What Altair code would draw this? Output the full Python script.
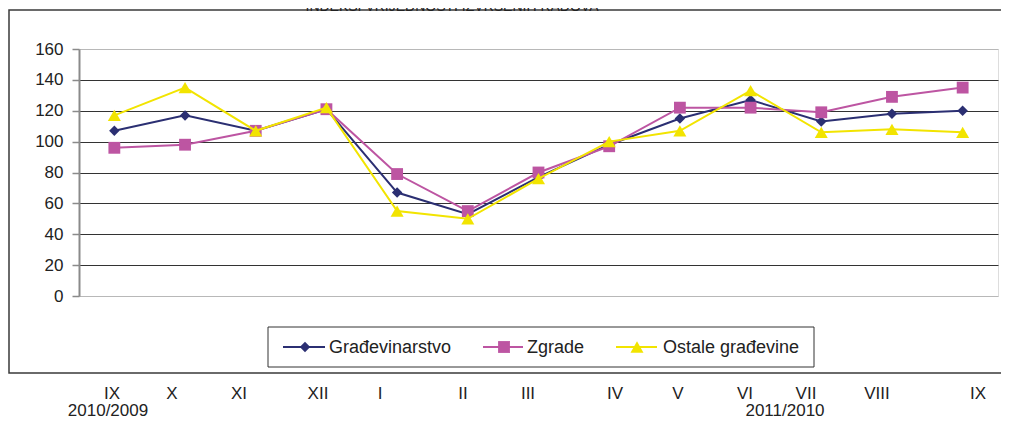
import altair as alt
import pandas as pd

# ---- data ----
months = ["IX", "X", "XI", "XII", "I", "II", "III", "IV", "V", "VI", "VII", "VIII", "IX"]
series_names = ["Građevinarstvo", "Zgrade", "Ostale građevine"]
gradevinarstvo = [107, 117, 107, 121, 67, 53, 77, 98, 115, 127, 113, 118, 120]
zgrade = [96, 98, 107, 121, 79, 55, 80, 97, 122, 122, 119, 129, 135]
ostale = [117, 135, 107, 122, 55, 50, 76, 100, 107, 133, 106, 108, 106]
year_labels = ["2010/2009", "2011/2010"]
y_ticks = [0, 20, 40, 60, 80, 100, 120, 140, 160]
title_text = "INDEKSI VRIJEDNOSTI IZVRŠENIH RADOVA"

# ---- styling / layout ----
colors = ["#2b2f72", "#bd55a2", "#f2e400"]
shapes = ["diamond", "square", "triangle-up"]
sizes = [110, 140, 170]
FONT = "Liberation Sans"
W, H = 919, 247
month_label_x = [33, 93, 160, 239, 301, 384, 449, 536, 599, 666, 727, 798, 899]
year_label_x = [29, 706]
legend_line = [(204, 246), (404, 444), (537, 578)]
legend_marker = [226, 425, 558]
legend_text_x = [250, 448, 584]

values = [gradevinarstvo, zgrade, ostale]
rows = []
for s, vals in zip(series_names, values):
    for i, v in enumerate(vals):
        rows.append({"idx": i, "series": s, "value": v})
df = pd.DataFrame(rows)

xscale = alt.Scale(domain=[-0.5, 12.5], nice=False, zero=False)
yscale = alt.Scale(domain=[0, 160], nice=False)

one = alt.Data(values=[{"a": 0}])

layers = []

# base chart with axis and grid
base = alt.Chart(df).mark_line(opacity=0).encode(
    x=alt.X("idx:Q", scale=xscale, axis=None),
    y=alt.Y(
        "value:Q",
        scale=yscale,
        axis=alt.Axis(
            values=y_ticks,
            tickCount=len(y_ticks),
            labelOverlap=False,
            title=None,
            labelFontSize=17,
            labelFont=FONT,
            labelColor="#222222",
            labelPadding=9,
            tickSize=7,
            tickColor="#8a8a8a",
            tickWidth=1.5,
            domainColor="#8a8a8a",
            domainWidth=2,
            grid=True,
            gridColor={
                "condition": {"test": "datum.value === 0 || datum.value === 160", "value": "#b8b8b8"},
                "value": "#333333",
            },
            gridWidth=1,
        ),
    ),
    detail="series:N",
)
layers.append(base)

# series
for name, col, shp, sz in zip(series_names, colors, shapes, sizes):
    sub = df[df["series"] == name]
    ln = alt.Chart(sub).mark_line(color=col, strokeWidth=2).encode(
        x=alt.X("idx:Q", scale=xscale), y=alt.Y("value:Q", scale=yscale)
    )
    pt = alt.Chart(sub).mark_point(shape=shp, filled=True, color=col, size=sz, opacity=1).encode(
        x=alt.X("idx:Q", scale=xscale), y=alt.Y("value:Q", scale=yscale)
    )
    layers += [ln, pt]

# outer frame
frame = alt.Chart(one).mark_rect(fill=None, stroke="#3a3a3a", strokeWidth=1.5).encode(
    x=alt.value(-70), x2=alt.value(960), y=alt.value(-39), y2=alt.value(324)
)
layers.append(frame)

# partially cut title (as in the reference)
title = alt.Chart(one).mark_text(
    text=title_text, font=FONT, fontSize=14, color="#222222", align="center", baseline="alphabetic"
).encode(x=alt.value(373), y=alt.value(-38))
layers.append(title)

# legend box
lbox = alt.Chart(one).mark_rect(fill="white", stroke="#333333", strokeWidth=1).encode(
    x=alt.value(189), x2=alt.value(735), y=alt.value(278), y2=alt.value(318)
)
layers.append(lbox)
for name, col, shp, sz, (l0, l1), mx, tx in zip(
    series_names, colors, shapes, sizes, legend_line, legend_marker, legend_text_x
):
    layers.append(
        alt.Chart(one).mark_rule(color=col, strokeWidth=2).encode(
            x=alt.value(l0), x2=alt.value(l1), y=alt.value(298)
        )
    )
    layers.append(
        alt.Chart(one).mark_point(shape=shp, filled=True, color=col, size=sz, opacity=1).encode(
            x=alt.value(mx), y=alt.value(298)
        )
    )
    layers.append(
        alt.Chart(one).mark_text(
            text=name, font=FONT, fontSize=18, color="#222222", align="left", baseline="middle"
        ).encode(x=alt.value(tx), y=alt.value(299))
    )

# month labels below frame
for lab, lx in zip(months, month_label_x):
    layers.append(
        alt.Chart(one).mark_text(
            text=lab, font=FONT, fontSize=17, color="#222222", align="center", baseline="middle"
        ).encode(x=alt.value(lx), y=alt.value(345))
    )
for lab, lx in zip(year_labels, year_label_x):
    layers.append(
        alt.Chart(one).mark_text(
            text=lab, font=FONT, fontSize=17, color="#222222", align="center", baseline="middle"
        ).encode(x=alt.value(lx), y=alt.value(362))
    )

chart = (
    alt.layer(*layers)
    .properties(
        width=W,
        height=H,
        autosize=alt.AutoSizeParams(type="none"),
        padding={"left": 71, "top": 41, "right": 3, "bottom": 125},
    )
    .configure_view(stroke="#a8a8a8", strokeWidth=2)
    .configure(background="white")
)

chart.save("out.html", embed_options={"renderer": "svg", "actions": False})
